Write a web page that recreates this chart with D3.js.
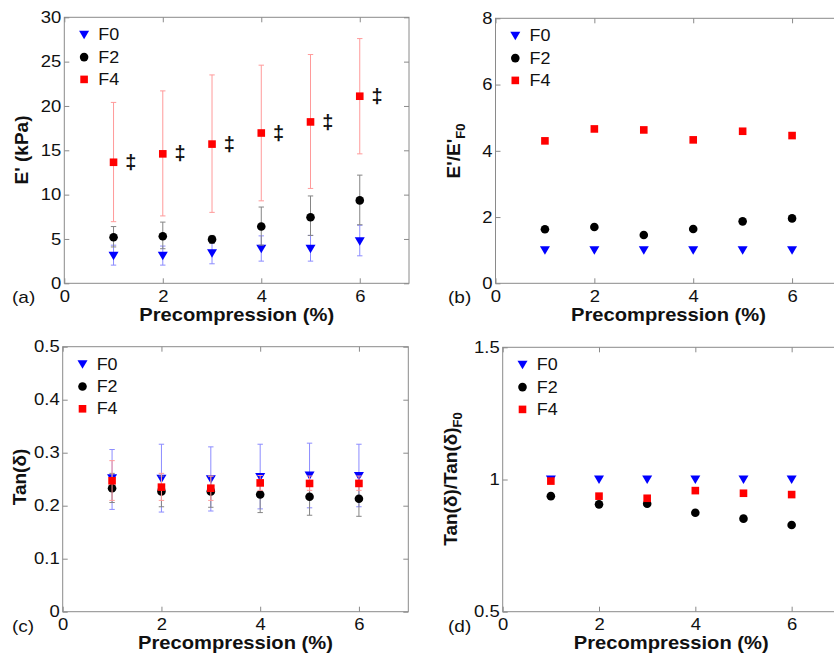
<!DOCTYPE html>
<html><head><meta charset="utf-8">
<script src="https://cdn.jsdelivr.net/npm/d3@7"></script>
<style>
body{margin:0;background:#fff}
svg{display:block}
text{font-family:"Liberation Sans",Arial,Helvetica,sans-serif;fill:#111}
</style></head><body><svg id="c" width="834" height="655"></svg>
<script>
// ---------- data ----------
const precompression = [1, 2, 3, 4, 5, 6];
const seriesNames = ["F0", "F2", "F4"];
const xTickValues = [0, 2, 4, 6];

// (a) E' (kPa): mean, lower and upper end of error bars
const eF0 = [3.1, 3.1, 3.4, 3.9, 3.9, 4.75];
const eF0Lo = [2.05, 2.05, 2.2, 2.5, 2.5, 3.1];
const eF0Hi = [4.3, 4.2, 4.5, 5.35, 5.4, 6.55];
const eF2 = [5.2, 5.3, 4.95, 6.4, 7.45, 9.35];
const eF2Lo = [4.1, 3.9, 4.5, 4.3, 5.4, 6.6];
const eF2Hi = [6.4, 6.9, 5.4, 8.6, 9.85, 12.2];
const eF4 = [13.65, 14.6, 15.7, 16.95, 18.2, 21.1];
const eF4Lo = [6.95, 7.6, 8.0, 9.3, 10.7, 14.6];
const eF4Hi = [20.4, 21.7, 23.5, 24.6, 25.8, 27.6];
const aYTicks = [0, 5, 10, 15, 20, 25, 30];

// (b) E'/E'F0
const bF0 = [1, 1, 1, 1, 1, 1];
const bF2 = [1.63, 1.70, 1.46, 1.64, 1.87, 1.96];
const bF4 = [4.30, 4.66, 4.63, 4.33, 4.59, 4.46];
const bYTicks = [0, 2, 4, 6, 8];

// (c) Tan(delta)
const cF0 = [0.252, 0.251, 0.250, 0.254, 0.257, 0.256];
const cF0Lo = [0.193, 0.188, 0.190, 0.194, 0.196, 0.198];
const cF0Hi = [0.306, 0.316, 0.311, 0.316, 0.318, 0.316];
const cF2 = [0.233, 0.227, 0.227, 0.221, 0.217, 0.213];
const cF2Lo = [0.206, 0.198, 0.197, 0.187, 0.182, 0.180];
const cF2Hi = [0.261, 0.256, 0.255, 0.245, 0.240, 0.244];
const cF4 = [0.247, 0.235, 0.233, 0.243, 0.242, 0.242];
const cF4Lo = [0.210, 0.210, 0.210, 0.229, 0.229, 0.229];
const cF4Hi = [0.285, 0.261, 0.256, 0.257, 0.256, 0.256];
const cYTicks = [0, 0.1, 0.2, 0.3, 0.4, 0.5];

// (d) Tan(delta)/Tan(delta)F0
const dF0 = [1, 1, 1, 1, 1, 1];
const dF2 = [0.937, 0.906, 0.908, 0.874, 0.852, 0.828];
const dF4 = [0.994, 0.937, 0.929, 0.958, 0.948, 0.943];
const dYTicks = [0.5, 1, 1.5];

// ---------- styling ----------
const SX = 1.12;
const markColor = {F0: "#0000ff", F2: "#000000", F4: "#ff0000"};
const barColor = {F0: "#8c8cff", F2: "#858585", F4: "#ff9a9a"};
const frameColor = "#8a8a8a";
const svg = d3.select("#c");

function marker(sel, name) {
  if (name === "F0") {
    sel.append("path").attr("d", "M-5,-4L5,-4L0,4.5Z").attr("fill", markColor.F0);
  } else if (name === "F2") {
    sel.append("circle").attr("r", 4.3).attr("fill", markColor.F2);
  } else {
    sel.append("rect").attr("x", -3.8).attr("y", -3.8).attr("width", 7.6).attr("height", 7.6).attr("fill", markColor.F4);
  }
}

function drawPanel(cfg) {
  const x = d3.scaleLinear().domain([0, 7]).range([cfg.left, cfg.right]);
  const y = d3.scaleLinear().domain(cfg.yDomain).range([cfg.bottom, cfg.top]);
  const g = svg.append("g");

  const style = a => {
    a.select(".domain").remove();
    a.selectAll(".tick line").attr("stroke", frameColor);
    a.selectAll(".tick text").attr("font-size", 16.5).attr("fill", "#111").attr("font-family", null).classed("sx", true);
  };
  g.append("g").attr("transform", `translate(0,${cfg.bottom})`)
    .call(d3.axisBottom(x).tickValues(xTickValues).tickFormat(d3.format("d")).tickSizeInner(-5).tickSizeOuter(0).tickPadding(7)).call(style);
  g.append("g").attr("transform", `translate(0,${cfg.top})`)
    .call(d3.axisTop(x).tickValues(xTickValues).tickFormat("").tickSizeInner(-5).tickSizeOuter(0)).call(style);
  g.append("g").attr("transform", `translate(${cfg.left},0)`)
    .call(d3.axisLeft(y).tickValues(cfg.yTicks).tickFormat(d => String(d)).tickSizeInner(-5).tickSizeOuter(0).tickPadding(3)).call(style);
  g.append("g").attr("transform", `translate(${cfg.right},0)`)
    .call(d3.axisRight(y).tickValues(cfg.yTicks).tickFormat("").tickSizeInner(-5).tickSizeOuter(0)).call(style);

  g.append("rect").attr("x", cfg.left).attr("y", cfg.top)
    .attr("width", cfg.right - cfg.left).attr("height", cfg.bottom - cfg.top)
    .attr("fill", "none").attr("stroke", frameColor).attr("stroke-width", 1);

  // series
  cfg.series.forEach(s => {
    const sg = g.append("g");
    if (s.lo) {
      precompression.forEach((p, i) => {
        const px = x(p), y0 = y(s.lo[i]), y1 = y(s.hi[i]);
        const eg = sg.append("g").attr("stroke", barColor[s.name]).attr("stroke-width", 1);
        eg.append("line").attr("x1", px).attr("x2", px).attr("y1", y0).attr("y2", y1);
        eg.append("line").attr("x1", px - 2.7).attr("x2", px + 2.7).attr("y1", y0).attr("y2", y0);
        eg.append("line").attr("x1", px - 2.7).attr("x2", px + 2.7).attr("y1", y1).attr("y2", y1);
      });
    }
    precompression.forEach((p, i) => {
      const mg = sg.append("g").attr("transform", `translate(${x(p)},${y(s.values[i])})`);
      marker(mg, s.name);
    });
  });

  // significance markers
  if (cfg.dagger) {
    precompression.forEach((p, i) => {
      g.append("text").attr("x", x(p + 0.35)).attr("y", y(cfg.dagger[i]))
        .attr("dy", "0.33em").attr("text-anchor", "middle")
        .attr("font-size", 20).attr("font-weight", "bold").text("\u2021");
    });
  }

  // legend
  seriesNames.forEach((n, i) => {
    const ly = cfg.top + 17.5 + i * 22.3;
    const lg = g.append("g").attr("transform", `translate(${cfg.left + 19.8},${ly})`);
    marker(lg, n);
    g.append("text").attr("class", "sx").attr("x", cfg.left + 34).attr("y", ly).attr("dy", "0.35em")
      .attr("font-size", 16).text(n);
  });

  // x title
  g.append("text").attr("class", "sx").attr("x", (cfg.left + cfg.right) / 2).attr("y", cfg.bottom + 37.5)
    .attr("text-anchor", "middle").attr("font-size", 18).attr("font-weight", "bold").text("Precompression (%)");

  // panel label
  g.append("text").attr("class", "sx").attr("x", cfg.labelX).attr("y", cfg.bottom + 20)
    .attr("font-size", 17).text(cfg.label);

  // y title
  const yt = g.append("text").attr("transform", `translate(${cfg.yTitleX},${cfg.yTitleY}) rotate(-90)`)
    .attr("text-anchor", "middle").attr("font-size", 19).attr("font-weight", "bold");
  yt.append("tspan").text(cfg.yTitle);
  if (cfg.yTitleSub) yt.append("tspan").attr("font-size", 13).attr("dy", 5).text(cfg.yTitleSub);
}

drawPanel({left: 64.3, right: 409, top: 17.3, bottom: 283.3, yDomain: [0, 30], yTicks: aYTicks,
  series: [{name: "F0", values: eF0, lo: eF0Lo, hi: eF0Hi},
           {name: "F2", values: eF2, lo: eF2Lo, hi: eF2Hi},
           {name: "F4", values: eF4, lo: eF4Lo, hi: eF4Hi}],
  dagger: eF4, label: "(a)", labelX: 12,
  yTitle: "E' (kPa)", yTitleX: 28.3, yTitleY: 150});

drawPanel({left: 495.5, right: 841.5, top: 18.3, bottom: 283.3, yDomain: [0, 8], yTicks: bYTicks,
  series: [{name: "F0", values: bF0}, {name: "F2", values: bF2}, {name: "F4", values: bF4}],
  label: "(b)", labelX: 448,
  yTitle: "E'/E'", yTitleSub: "F0", yTitleX: 460, yTitleY: 151});

drawPanel({left: 62.7, right: 408.3, top: 346.7, bottom: 611.7, yDomain: [0, 0.5], yTicks: cYTicks,
  series: [{name: "F0", values: cF0, lo: cF0Lo, hi: cF0Hi},
           {name: "F2", values: cF2, lo: cF2Lo, hi: cF2Hi},
           {name: "F4", values: cF4, lo: cF4Lo, hi: cF4Hi}],
  label: "(c)", labelX: 12,
  yTitle: "Tan(\u03b4)", yTitleX: 25.5, yTitleY: 477});

drawPanel({left: 502.7, right: 839.8, top: 347.3, bottom: 611.7, yDomain: [0.5, 1.5], yTicks: dYTicks,
  series: [{name: "F0", values: dF0}, {name: "F2", values: dF2}, {name: "F4", values: dF4}],
  label: "(d)", labelX: 448,
  yTitle: "Tan(\u03b4)/Tan(\u03b4)", yTitleSub: "F0", yTitleX: 457, yTitleY: 479});

// horizontal stretch of upright text, as in the reference
svg.selectAll("text.sx").each(function () {
  const x0 = +(this.getAttribute("x") || 0);
  d3.select(this).attr("transform", `translate(${x0 * (1 - SX)},0) scale(${SX},1)`);
});
</script></body></html>
